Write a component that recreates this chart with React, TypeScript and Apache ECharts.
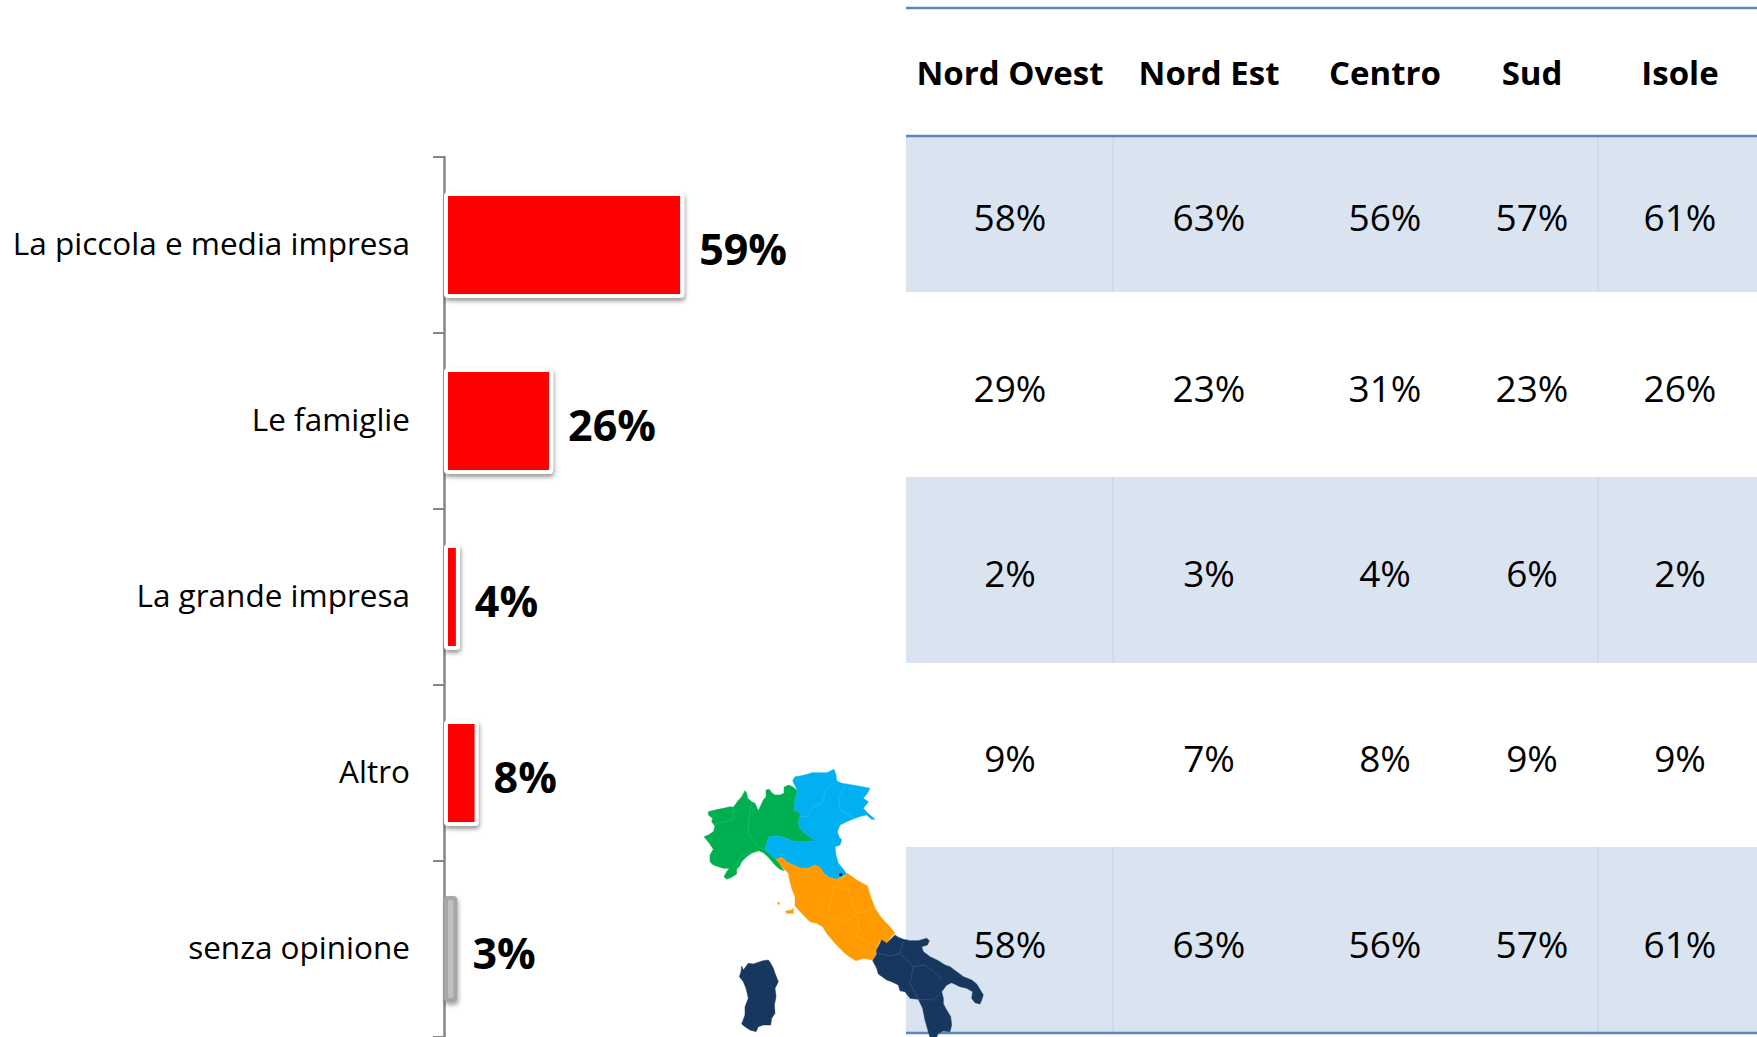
import React, { useEffect, useRef } from "react";
import * as echarts from "echarts";

const categories = ["La piccola e media impresa", "Le famiglie", "La grande impresa", "Altro", "senza opinione"];
const barValues = [59, 26.8, 3.9, 8.5, 3.3];
const barLabels = ["59%", "26%", "4%", "8%", "3%"];
const regions = ["Nord Ovest", "Nord Est", "Centro", "Sud", "Isole"];
const tableRows = [
  ["58%", "63%", "56%", "57%", "61%"],
  ["29%", "23%", "31%", "23%", "26%"],
  ["2%", "3%", "4%", "6%", "2%"],
  ["9%", "7%", "8%", "9%", "9%"],
  ["58%", "63%", "56%", "57%", "61%"],
];

const FONT = "'Open Sans', 'Noto Sans', sans-serif";
const colCenters = [1010, 1209, 1385, 1532, 1680];
const rowEdges = [136, 292, 477, 663, 847, 1033];
const rowTextY = [216, 387, 572, 757, 943];

type P = [number, number];
const pts = (a: number[]): P[] => {
  const r: P[] = [];
  for (let i = 0; i < a.length; i += 2) r.push([a[i], a[i + 1]]);
  return r;
};
const nw = pts([85,185,105,180,130,175,150,170,160,172,172,155,185,140,195,122,200,128,203,145,215,155,225,160,235,182,243,165,250,150,258,140,258,120,268,118,275,128,285,135,300,135,312,130,312,112,325,105,338,110,352,122,345,150,342,180,360,188,362,195,355,215,360,235,375,250,405,272,375,275,345,275,310,262,290,258,265,262,255,300,270,312,285,325,298,340,312,362,300,358,285,345,265,322,250,308,235,302,215,310,200,320,185,335,178,350,170,358,170,372,155,382,140,388,132,380,140,365,148,355,130,355,115,350,100,345,90,335,90,315,100,298,88,280,72,260,85,255,100,245,105,228,95,215,98,205,85,195]);
const ne = pts([338,92,345,80,360,78,385,72,395,68,440,68,462,58,468,75,470,92,485,100,500,102,535,108,570,115,562,130,550,145,565,155,558,165,550,175,562,188,585,208,575,208,560,195,545,198,525,205,500,215,480,225,472,245,478,262,485,270,480,285,465,290,468,315,475,340,488,355,500,372,470,388,445,382,428,365,420,352,405,345,385,355,365,355,340,345,320,335,305,322,288,328,285,325,255,300,265,262,290,258,310,262,345,275,375,275,405,272,375,250,360,235,355,215,362,195,360,188,342,180,345,150,352,122]);
const centre = pts([288,328,305,322,320,335,340,345,365,355,385,355,405,345,420,352,428,365,440,380,470,388,490,380,502,370,530,390,562,408,572,440,585,475,598,495,610,510,630,530,645,550,630,565,620,580,600,572,592,590,590,605,578,630,550,625,528,632,505,618,490,605,465,580,440,550,428,530,410,520,390,515,365,490,345,468,345,440,335,415,330,395,325,370,310,355]);
const elba = pts([317,483,335,480,340,475,340,490,320,490]);
const islet = pts([294,457,298,457,298,463,294,463]);
const south = pts([645,555,655,562,670,568,690,572,715,572,740,565,748,572,742,585,725,590,730,605,750,620,775,632,795,645,810,650,830,665,850,680,875,690,890,702,910,735,905,750,900,762,885,758,875,745,878,725,860,715,840,710,815,698,800,705,785,725,790,745,790,762,800,780,812,800,815,825,810,845,790,843,775,850,770,861,750,861,742,835,735,810,728,775,715,748,690,745,675,725,660,722,655,705,635,695,620,690,595,672,590,655,578,632,590,612,590,600,605,570,620,580]);
const sardinia = pts([185,648,190,660,205,640,220,642,240,635,250,632,265,630,272,640,280,655,285,670,295,695,285,715,288,740,283,765,285,790,275,805,272,825,250,825,235,830,228,845,210,840,195,830,185,822,195,795,195,770,205,745,198,715,190,695,178,680,183,665]);
const sanMarino = pts([478,372,486,370,486,377,478,377]);
const borders: { c: string; pts: P[] }[] = [
  { c: "#2cbc6a", pts: pts([105,222,160,208,160,172]) },
  { c: "#2cbc6a", pts: pts([215,160,208,190,205,250,235,290,255,300]) },
  { c: "#2cbc6a", pts: pts([235,302,180,320,170,355]) },
  { c: "#33bdf2", pts: pts([460,100,435,125,430,155,395,175,385,200,358,200]) },
  { c: "#33bdf2", pts: pts([500,105,475,140,480,180,525,205]) },
  { c: "#ffae33", pts: pts([500,372,460,410,445,490,490,522,530,490,585,475]) },
  { c: "#ffae33", pts: pts([460,410,505,420,520,470,530,490]) },
  { c: "#ffae33", pts: pts([530,500,540,545,525,555,590,590]) },
  { c: "#3a5a80", pts: pts([595,610,630,618,660,610,670,575]) },
  { c: "#3a5a80", pts: pts([660,610,700,650,690,700,715,748,760,750,785,725]) },
  { c: "#3a5a80", pts: pts([700,650,735,645,785,685]) },
];
const mapPt = (p: P): number[] => [680 + p[0] / 3, 750 + p[1] / 3];

function buildGraphic() {
  const out: any[] = [];
  rowEdges.slice(0, -1).forEach((top, i) => {
    if (i % 2 === 0) {
      out.push({ type: "rect", z: 1, shape: { x: 906, y: top, width: 851, height: rowEdges[i + 1] - top }, style: { fill: "#dae3f0" } });
      [1113, 1598].forEach((x) =>
        out.push({ type: "line", z: 2, shape: { x1: x, y1: top, x2: x, y2: rowEdges[i + 1] }, style: { stroke: "#c2d3e8", lineWidth: 1 } })
      );
    }
  });
  [8, 136, 1033].forEach((y) =>
    out.push({ type: "line", z: 3, shape: { x1: 906, y1: y, x2: 1757, y2: y }, style: { stroke: "#5b85bd", lineWidth: 2.5 } })
  );
  regions.forEach((r, c) =>
    out.push({ type: "text", z: 4, x: colCenters[c], y: 72, style: { text: r, fill: "#000", font: `bold 33px ${FONT}`, align: "center", verticalAlign: "middle" } })
  );
  tableRows.forEach((row, i) =>
    row.forEach((t, c) =>
      out.push({ type: "text", z: 4, x: colCenters[c], y: rowTextY[i], style: { text: t, fill: "#000", font: `37px ${FONT}`, align: "center", verticalAlign: "middle" } })
    )
  );
  const poly = (p: P[], fill: string) =>
    out.push({ type: "polygon", z: 6, shape: { points: p.map(mapPt) }, style: { fill, stroke: fill, lineWidth: 0.5 } });
  poly(nw, "#00b050");
  poly(ne, "#00b0f0");
  poly(centre, "#ff9a00");
  poly(elba, "#ff9a00");
  poly(islet, "#ff9a00");
  poly(south, "#17375e");
  poly(sardinia, "#17375e");
  poly(sanMarino, "#000000");
  borders.forEach((b) =>
    out.push({ type: "polyline", z: 7, shape: { points: b.pts.map(mapPt) }, style: { stroke: b.c, fill: "none", lineWidth: 0.7 } })
  );
  return out;
}

export default function App() {
  const ref = useRef<HTMLDivElement>(null);
  useEffect(() => {
    const chart = echarts.init(ref.current!, undefined, { renderer: "svg" });
    chart.setOption({
      animation: false,
      backgroundColor: "#ffffff",
      grid: { left: 444, top: 157, width: 407, height: 880, containLabel: false },
      xAxis: { type: "value", min: 0, max: 100, show: false },
      yAxis: {
        type: "category",
        inverse: true,
        data: categories,
        axisLine: { show: true, lineStyle: { color: "#868686", width: 2.5 } },
        axisTick: { show: true, length: 11, lineStyle: { color: "#868686", width: 2 } },
        axisLabel: {
          margin: 34,
          align: "right",
          formatter: (v: string) => `{a|${v}}`,
          rich: { a: { color: "#000", fontFamily: FONT, fontSize: 31.5, padding: [0, 0, 6, 0] } },
        },
      },
      series: [
        {
          type: "bar",
          barWidth: 106,
          data: barValues.map((v, i) => ({
            value: v,
            itemStyle:
              i === 4
                ? { color: "#bfbfbf", borderColor: "#a6a6a6", borderWidth: 4, borderRadius: 2, shadowColor: "rgba(0,0,0,0.35)", shadowBlur: 4, shadowOffsetY: 3, shadowOffsetX: 1 }
                : { color: "#ff0000", borderColor: "#ffffff", borderWidth: 4, borderRadius: 2, shadowColor: "rgba(0,0,0,0.4)", shadowBlur: 4, shadowOffsetY: 3, shadowOffsetX: 1 },
          })),
          label: {
            show: true,
            position: "right",
            distance: 15,
            offset: [0, 3],
            formatter: (p: any) => barLabels[p.dataIndex],
            color: "#000",
            fontFamily: FONT,
            fontWeight: "bold",
            fontSize: 43,
          },
        },
      ],
      graphic: buildGraphic(),
    });
    return () => chart.dispose();
  }, []);
  return <div ref={ref} style={{ position: "fixed", left: 0, top: 0, width: 1757, height: 1037 }} />;
}
